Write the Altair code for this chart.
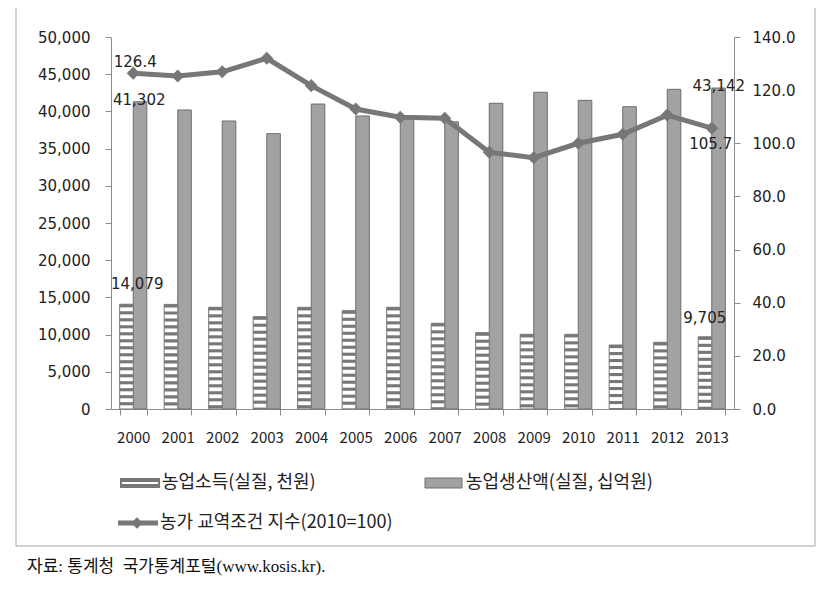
import altair as alt
import pandas as pd

# ---------------- data ----------------
years = [str(y) for y in range(2000, 2014)]
income = [14079, 14060, 13670, 12410, 13670, 13210, 13670, 11520, 10260, 10040, 10040, 8600, 8960, 9705]
production = [41302, 40190, 38710, 37010, 40990, 39380, 39300, 38600, 41090, 42570, 41490, 40630, 42970, 43142]
tot_index = [126.4, 125.3, 126.9, 132.0, 121.7, 112.9, 109.8, 109.4, 96.6, 94.6, 100.0, 103.4, 110.6, 105.7]

series_keys = ["income", "production"]
legend_labels = ["농업소득(실질, 천원)", "농업생산액(실질, 십억원)", "농가 교역조건 지수(2010=100)"]
left_ticks = list(range(0, 50001, 5000))
right_ticks = [0, 20, 40, 60, 80, 100, 120, 140]
caption = "자료: 통계청\u00a0 국가통계포털(www.kosis.kr)."

# ---------------- styles ----------------
GRAY = "#777777"
TXT = "#222222"
NUM_FONT = "DejaVu Sans"
KR_FONT = "Noto Sans CJK KR"
STRIPE_STEP = 940   # stripe period (data units) for the striped bar fill
STRIPE_W = 420      # stripe thickness (data units)

bars_df = pd.DataFrame({
    "year": years * 2,
    "series": ["income"] * len(years) + ["production"] * len(years),
    "value": income + production,
})

stripe_rows = []
for yr, v in zip(years, income):
    top = v
    while top > 0:
        stripe_rows.append({"year": yr, "series": "income", "value": top, "bottom": max(top - STRIPE_W, 0)})
        top -= STRIPE_STEP
stripes_df = pd.DataFrame(stripe_rows)

line_df = pd.DataFrame({"year": years, "idx": tot_index})
one = pd.DataFrame({"k": [0]})

x_scale = alt.Scale(domain=years, paddingInner=0.39, paddingOuter=0.195)
x_axis = alt.Axis(title=None, labelAngle=0, tickBand="extent", tickSize=6, labelPadding=15,
                  labelFont=KR_FONT, labelFontSize=15, labelColor=TXT,
                  domainColor="#8c8c8c", tickColor="#8c8c8c", grid=False)
X = alt.X("year:N", scale=x_scale, axis=x_axis, title=None)
XOFF = alt.XOffset("series:N", scale=alt.Scale(domain=series_keys, paddingInner=0, paddingOuter=0))

left_scale = alt.Scale(domain=[0, 50000], nice=False, zero=True)
right_scale = alt.Scale(domain=[0, 140], nice=False, zero=True)
left_axis = alt.Axis(orient="left", values=left_ticks, labelExpr="format(datum.value, ',')",
                     title=None, grid=False,
                     tickSize=6, labelPadding=15, labelFont=NUM_FONT, labelFontSize=15,
                     labelColor=TXT, domainColor="#8c8c8c", tickColor="#8c8c8c")
right_axis = alt.Axis(orient="right", values=right_ticks, labelExpr="format(datum.value, '.1f')",
                      title=None, grid=False,
                      tickSize=6, labelPadding=12, labelFont=NUM_FONT, labelFontSize=15,
                      labelColor=TXT, domainColor="#8c8c8c", tickColor="#8c8c8c")
YL = alt.Y("value:Q", scale=left_scale, axis=left_axis, title=None)
YR = alt.Y("idx:Q", scale=right_scale, axis=right_axis, title=None)

# ---------------- frame & caption ----------------
frame = alt.Chart(one).mark_rect(fill="white", fillOpacity=0, stroke="#a6a6a6", strokeWidth=1).encode(
    x=alt.value(-95), x2=alt.value(704), y=alt.value(-31), y2=alt.value(509))

cap = alt.Chart(one).mark_text(align="left", baseline="middle", font="Liberation Serif, Noto Sans CJK KR",
                               fontSize=17, color="#111").encode(
    x=alt.value(-84), y=alt.value(530), text=alt.value(caption))

# ---------------- bars ----------------
prod_bars = alt.Chart(bars_df).transform_filter(alt.datum.series == "production").mark_bar(
    fill="#a2a2a2", stroke="#6e6e6e", strokeWidth=1).encode(x=X, xOffset=XOFF, y=YL)

inc_bars = alt.Chart(bars_df).transform_filter(alt.datum.series == "income").mark_bar(
    fill="white", stroke=GRAY, strokeWidth=1).encode(x=X, xOffset=XOFF, y=YL)

stripes = alt.Chart(stripes_df).mark_bar(color=GRAY).encode(
    x=X, xOffset=XOFF, y=YL, y2="bottom:Q")


def bar_label(series, i, dx, dy):
    vals = income if series == "income" else production
    df = pd.DataFrame({"year": [years[i]], "value": [vals[i]]})
    return alt.Chart(df).mark_text(font=NUM_FONT, fontSize=15, color=TXT, baseline="middle",
                                   align="center", dx=dx, dy=dy).encode(
        x=X, y=YL, text=alt.Text("value:Q", format=","))


def idx_label(i, dx, dy):
    df = pd.DataFrame({"year": [years[i]], "idx": [tot_index[i]]})
    return alt.Chart(df).mark_text(font=NUM_FONT, fontSize=15, color=TXT, baseline="middle",
                                   align="center", dx=dx, dy=dy).encode(
        x=X, y=YR, text=alt.Text("idx:Q", format=".1f"))


# ---------------- legend ----------------
leg_sw1 = alt.Chart(one).mark_rect(fill=GRAY).encode(
    x=alt.value(9), x2=alt.value(49), y=alt.value(441), y2=alt.value(451))
leg_sw1w = alt.Chart(one).mark_rule(color="white", strokeWidth=2).encode(
    x=alt.value(11), x2=alt.value(47), y=alt.value(446))
leg_sw2 = alt.Chart(one).mark_rect(fill="#a2a2a2", stroke="#6e6e6e", strokeWidth=1).encode(
    x=alt.value(314), x2=alt.value(351), y=alt.value(441), y2=alt.value(451))
leg_sw3 = alt.Chart(one).mark_rule(color=GRAY, strokeWidth=5).encode(
    x=alt.value(7), x2=alt.value(47), y=alt.value(486))
leg_sw3p = alt.Chart(one).mark_point(shape="diamond", filled=True, size=130, color=GRAY, opacity=1).encode(
    x=alt.value(26), y=alt.value(486))


def leg_text(x, y, t):
    return alt.Chart(one).mark_text(align="left", baseline="middle", font=KR_FONT, fontSize=18,
                                    color=TXT).encode(x=alt.value(x), y=alt.value(y), text=alt.value(t))


legend = [leg_sw1, leg_sw1w, leg_text(51, 446, legend_labels[0]),
          leg_sw2, leg_text(355, 446, legend_labels[1]),
          leg_sw3, leg_sw3p, leg_text(49, 486, legend_labels[2])]

# ---------------- line ----------------
line = alt.Chart(line_df).mark_line(color=GRAY, strokeWidth=5).encode(x=X, y=YR)
pts = alt.Chart(line_df).mark_point(shape="diamond", filled=True, size=170, color=GRAY, opacity=1).encode(
    x=X, y=YR)

left_layer = alt.layer(
    prod_bars, inc_bars, stripes,
    bar_label("income", 0, 4, -20), bar_label("production", 0, 6, -2),
    bar_label("income", 13, -7, -19), bar_label("production", 13, 7, -2),
)
right_layer = alt.layer(line, pts, idx_label(0, 2, -11), idx_label(13, -1, 16))
deco = alt.layer(frame, *legend, cap)

chart = alt.layer(left_layer, right_layer, deco).resolve_scale(y="independent").properties(
    width=623, height=372,
    autosize=alt.AutoSizeParams(type="none"),
    padding={"left": 103, "top": 29, "right": 88, "bottom": 172},
    background="white",
).configure_view(stroke=None)

chart.save("out.html", embed_options={"renderer": "svg", "actions": False})
